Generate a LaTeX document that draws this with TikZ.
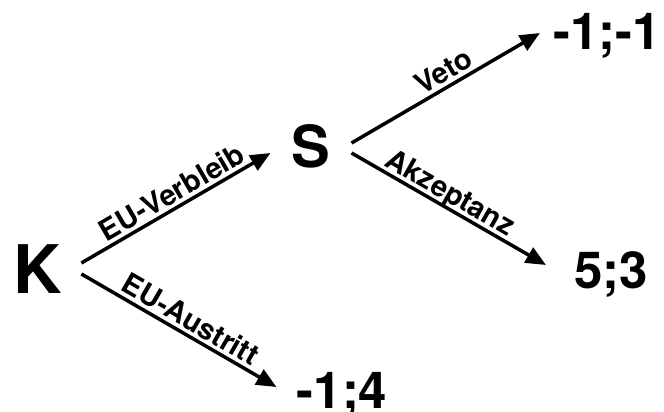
\documentclass[tikz,border=0pt]{standalone}
\usepackage{fontspec}
\setmainfont{TeX Gyre Heros}
\usetikzlibrary{arrows.meta,positioning}

\tikzset{
  spieler/.style={font=\bfseries\fontsize{67}{67}\selectfont, inner sep=0pt, text depth=0pt},
  auszahlung/.style={font=\bfseries\fontsize{51}{51}\selectfont, inner sep=0pt, text depth=0pt},
  zug/.style={-{Triangle[length=20pt,width=17pt]}, line width=3.5pt},
  zuglabel/.style={font=\bfseries\fontsize{29}{29}\selectfont, sloped, above, inner sep=3.5pt, text depth=0pt}
}

\begin{document}
\begin{tikzpicture}[x=1pt,y=-1pt]
    \useasboundingbox (0,0) rectangle (664,412);

    % Spieler
    \node[spieler] (K) at (38,269) {K};
    \node[spieler, font=\bfseries\fontsize{58}{58}\selectfont] (S) at (311,146) {S};

    % Auszahlungen
    \node[auszahlung] (vv) at (607,31) {-1;-1};
    \node[auszahlung] (va) at (611,270) {5;3};
    \node[auszahlung] (au) at (342,390) {-1;4};

    % Zuege von K
    \draw[zug] ([shift={(19,-6)}]K.east) -- ([shift={(-21,7)}]S.west)
        node[zuglabel, pos=0.52] {EU-Verbleib};
    \draw[zug] ([shift={(19,5)}]K.east) -- ([shift={(-20,-3)}]au.west)
        node[zuglabel, pos=0.52] {EU-Austritt};

    % Zuege von S
    \draw[zug] ([shift={(21,-3)}]S.east) -- ([shift={(-13,2)}]vv.west)
        node[zuglabel, pos=0.53] {Veto};
    \draw[zug] ([shift={(21,7)}]S.east) -- ([shift={(-28,-5)}]va.west)
        node[zuglabel, pos=0.47] {Akzeptanz};
\end{tikzpicture}
\end{document}
